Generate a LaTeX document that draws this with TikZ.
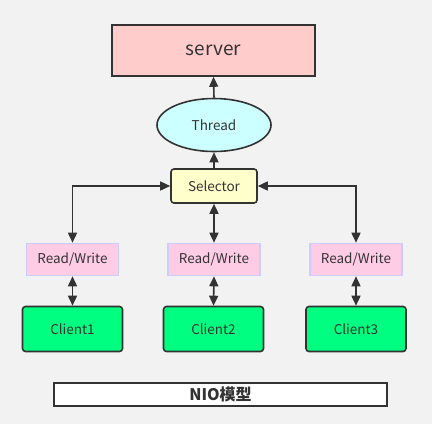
\documentclass[tikz,border=0pt]{standalone}
\usepackage{fontspec}
\setmainfont{Noto Sans CJK SC}
\usetikzlibrary{arrows.meta,shapes.geometric}
\definecolor{bg}{HTML}{F2F2F2}
\definecolor{ln}{HTML}{333333}
\definecolor{srv}{HTML}{FFCCCC}
\definecolor{thr}{HTML}{CCFFFF}
\definecolor{sel}{HTML}{FFFFCC}
\definecolor{rw}{HTML}{FFCCE6}
\definecolor{rwb}{HTML}{CCCCFF}
\definecolor{cli}{HTML}{00FF80}
\tikzset{
  every node/.style={text=ln, inner sep=0pt},
  txt/.style={font=\fontsize{13.5}{15}\selectfont},
  box/.style={draw=ln, line width=1.6pt},
  rwbox/.style={txt, fill=rw, draw=rwb, line width=1.6pt, minimum width=92pt, minimum height=32pt},
  clibox/.style={txt, box, fill=cli, rounded corners=3pt, minimum width=100pt, minimum height=45pt},
  conn/.style={draw=ln, line width=1.6pt, -{Triangle[width=9pt,length=10pt]}},
  conn2/.style={draw=ln, line width=1.6pt, {Triangle[width=9pt,length=10pt]}-{Triangle[width=9pt,length=10pt]}},
}
\begin{document}
\begin{tikzpicture}[x=1pt,y=-1pt]
\fill[bg] (0,0) rectangle (432,424);
\useasboundingbox (0,0) rectangle (432,424);
\node[box, fill=srv, minimum width=203pt, minimum height=51pt, font=\fontsize{19}{21}\selectfont] (server) at (213.5,50.5) {server};
\node[txt, box, ellipse, fill=thr, minimum width=114pt, minimum height=53pt] (thread) at (214,125) {Thread};
\node[txt, box, fill=sel, rounded corners=3pt, minimum width=86pt, minimum height=34pt] (sel) at (214,186) {Selector};
\node[rwbox] (rw1) at (72.5,259.5) {Read/Write};
\node[rwbox] (rw2) at (214,259.5) {Read/Write};
\node[rwbox] (rw3) at (356,259.5) {Read/Write};
\node[clibox] (c1) at (72.5,329) {Client1};
\node[clibox] (c2) at (213.5,329) {Client2};
\node[clibox] (c3) at (356,329) {Client3};
\node[box, fill=white, minimum width=333pt, minimum height=23pt, font=\fontsize{16}{18}\selectfont\bfseries] (nio) at (220.5,394.5) {NIO模型};
\draw[conn] (thread.north) -- (server.south);
\draw[conn] (sel.north) -- (thread.south);
\draw[conn2] (sel.south) -- (rw2.north);
\draw[conn2] (rw1.north) |- (sel.west);
\draw[conn2] (rw3.north) |- (sel.east);
\draw[conn2] (rw1.south) -- (c1.north);
\draw[conn2] (rw2.south) -- (c2.north);
\draw[conn2] (rw3.south) -- (c3.north);
\end{tikzpicture}
\end{document}
